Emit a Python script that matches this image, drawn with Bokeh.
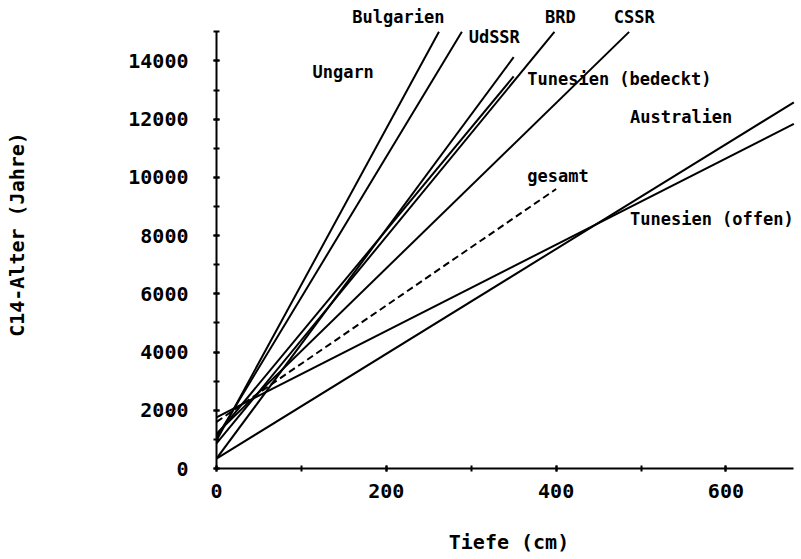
from bokeh.plotting import figure
from bokeh.models import ColumnDataSource, Range1d, SingleIntervalTicker
from bokeh.core.properties import value
from bokeh.embed import file_html
from bokeh.resources import INLINE

# ---- data ----
names = ["Bulgarien", "UdSSR", "Ungarn", "BRD", "Tunesien (bedeckt)",
         "CSSR", "gesamt", "Australien", "Tunesien (offen)"]
depth_start = [0, 0, 0, 0, 0, 0, 0, 0, 0]
age_start = [960, 1060, 340, 860, 1150, 1200, 1600, 340, 1760]
depth_end = [262, 289, 350, 398, 350, 486, 400, 680, 680]
age_end = [15000, 15000, 14130, 15000, 13470, 15000, 9600, 12580, 11840]
dashed = [False, False, False, False, False, False, True, False, False]

label_texts = ["Bulgarien", "UdSSR", "BRD", "CSSR", "Ungarn",
               "Tunesien (bedeckt)", "Australien", "gesamt", "Tunesien (offen)"]

x_ticks_interval = 200
y_ticks_interval = 2000

# ---- layout (label anchor positions, in data units) ----
label_x = [160, 297, 387, 468, 113, 366, 487, 366, 487]
label_y = [15500, 14820, 15500, 15500, 13610, 13390, 12090, 10065, 8580]

FONT = value("DejaVu Sans Mono")

p = figure(width=801, height=559, output_backend="svg", toolbar_location=None,
           x_range=Range1d(0, 689), y_range=Range1d(0, 16077),
           min_border_left=216, min_border_right=0, min_border_top=0,
           min_border_bottom=91, background_fill_color="white",
           border_fill_color="white")
p.outline_line_color = None
p.xgrid.visible = False
p.ygrid.visible = False

solid = ColumnDataSource(dict(
    x0=[d for d, s in zip(depth_start, dashed) if not s],
    y0=[a for a, s in zip(age_start, dashed) if not s],
    x1=[d for d, s in zip(depth_end, dashed) if not s],
    y1=[a for a, s in zip(age_end, dashed) if not s],
))
dash = ColumnDataSource(dict(
    x0=[d for d, s in zip(depth_start, dashed) if s],
    y0=[a for a, s in zip(age_start, dashed) if s],
    x1=[d for d, s in zip(depth_end, dashed) if s],
    y1=[a for a, s in zip(age_end, dashed) if s],
))
p.segment(x0="x0", y0="y0", x1="x1", y1="y1", source=solid,
          line_color="black", line_width=2)
p.segment(x0="x0", y0="y0", x1="x1", y1="y1", source=dash,
          line_color="black", line_width=2, line_dash="7 4")

p.text(x=label_x, y=label_y, text=label_texts, text_font=FONT,
       text_font_style="bold", text_font_size="17px", text_color="black",
       text_align="left", text_baseline="middle")

for ax, interval, bounds in ((p.xaxis, x_ticks_interval, (0, 680)),
                             (p.yaxis, y_ticks_interval, (0, 15000))):
    ax.ticker = SingleIntervalTicker(interval=interval, num_minor_ticks=2)
    ax.bounds = bounds
    ax.axis_line_width = 2
    ax.axis_line_color = "black"
    ax.major_tick_line_width = 2
    ax.minor_tick_line_width = 2
    ax.major_tick_line_color = "black"
    ax.minor_tick_line_color = "black"
    ax.major_tick_in = 3
    ax.major_tick_out = 3
    ax.minor_tick_in = 3
    ax.minor_tick_out = 3
    ax.major_label_text_font = "DejaVu Sans Mono"
    ax.major_label_text_font_style = "bold"
    ax.major_label_text_font_size = "20px"
    ax.major_label_text_color = "black"
    ax.axis_label_text_font = "DejaVu Sans Mono"
    ax.axis_label_text_font_style = "bold"
    ax.axis_label_text_font_size = "20px"
    ax.axis_label_text_color = "black"

p.xaxis.axis_label = "Tiefe (cm)"
p.yaxis.axis_label = "C14-Alter (Jahre)"
p.xaxis.major_label_standoff = 12
p.xaxis.axis_label_standoff = 29
p.yaxis.major_label_standoff = 25
p.yaxis.axis_label_standoff = 96
p.yaxis.major_label_orientation = "horizontal"

open("out.html", "w").write(file_html(p, INLINE))
